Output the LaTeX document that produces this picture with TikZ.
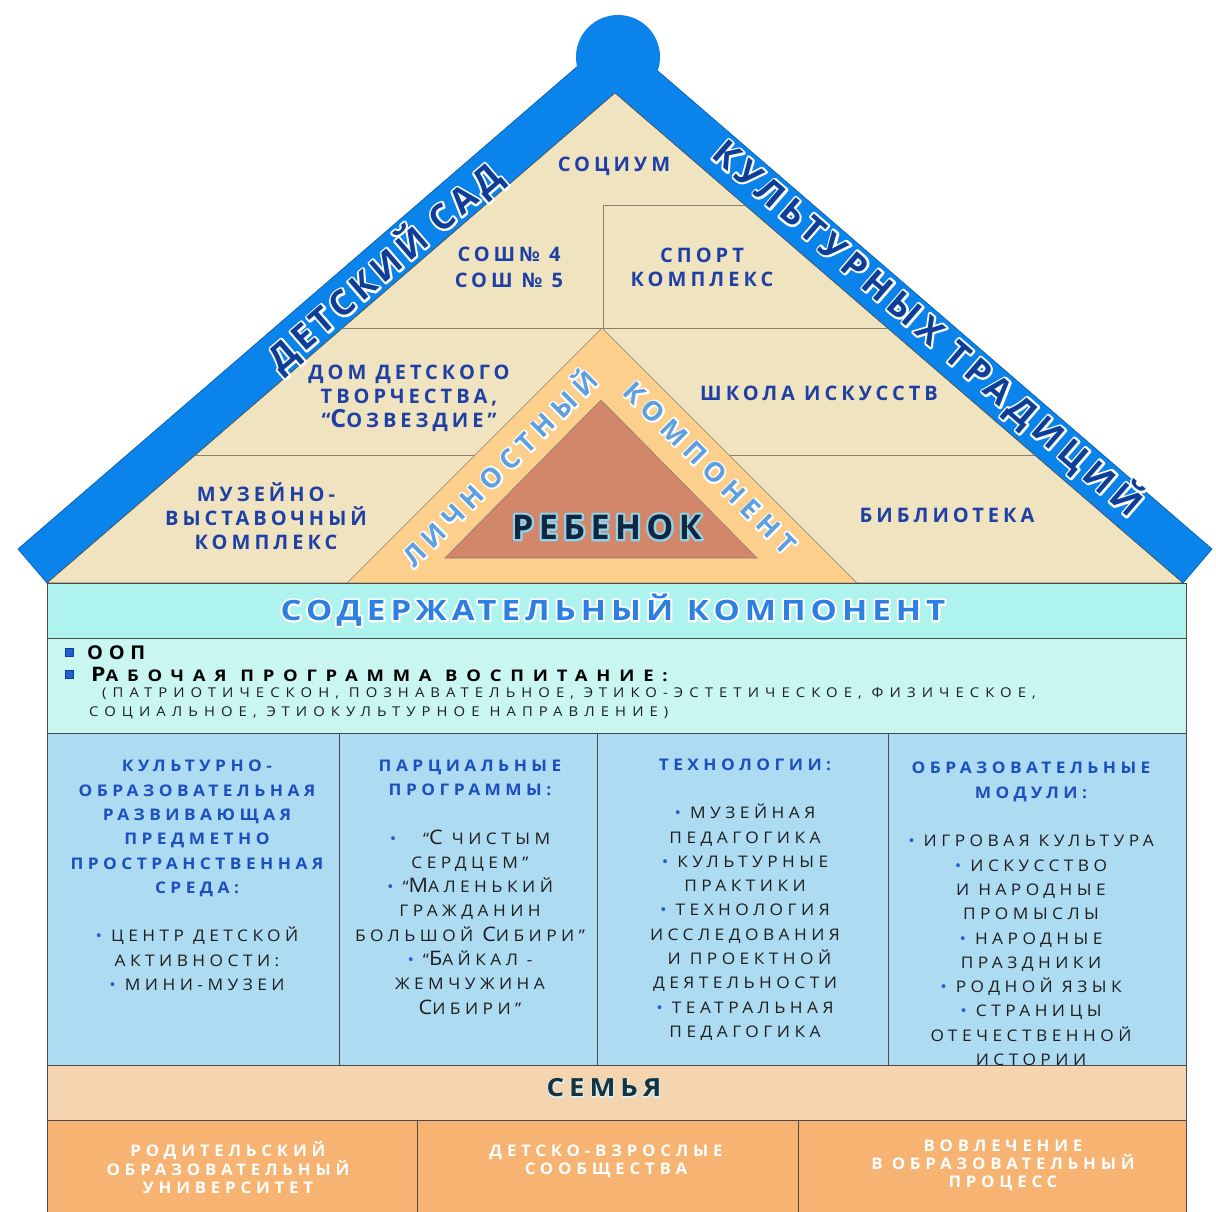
\documentclass[tikz,border=0pt]{standalone}
\usepackage{fontspec}
\usepackage{graphicx}
\setmainfont{Open Sans}
\newfontfamily\lsRoof[LetterSpace=20]{Open Sans}
\newfontfamily\lsCol[LetterSpace=28,FakeStretch=1.08]{Open Sans}
\newfontfamily\lsBand[LetterSpace=14]{Open Sans}
\newfontfamily\lsBandR[LetterSpace=17]{Open Sans}
\newfontfamily\lsTri[LetterSpace=24]{Open Sans}
\newfontfamily\lsReb[LetterSpace=16]{Open Sans}
\newfontfamily\lsSod[LetterSpace=18,FakeStretch=1.18]{Open Sans}
\newfontfamily\lsSem[LetterSpace=20,FakeStretch=1.1]{Open Sans}
\newfontfamily\lsOop[LetterSpace=30,FakeStretch=1.05]{Open Sans}
\newfontfamily\lsRab[LetterSpace=55,FakeStretch=1.15]{Open Sans}
\newfontfamily\lsNap[LetterSpace=45,FakeStretch=1.1]{Open Sans}
\newfontfamily\lsBot[LetterSpace=30,FakeStretch=1.05]{Open Sans}
\newcommand\fs[2]{\fontsize{#1}{#2}\selectfont}
\newcommand\Up[1]{\scalebox{1.25}{#1}}
\definecolor{roofblue}{HTML}{0A84EA}
\definecolor{roofedge}{HTML}{0B5FB5}
\definecolor{beige}{HTML}{F0E4C0}
\definecolor{ltorange}{HTML}{FCD08C}
\definecolor{brownish}{HTML}{D2876A}
\definecolor{cyanband}{HTML}{AEF3EE}
\definecolor{cyanbox}{HTML}{CAF6F2}
\definecolor{colblue}{HTML}{ACDBF2}
\definecolor{peach}{HTML}{F5D4B0}
\definecolor{orangebox}{HTML}{F6B372}
\definecolor{labelblue}{HTML}{1E40A6}
\definecolor{headblue}{HTML}{1D4FBE}
\definecolor{bodyblack}{HTML}{1E1E1E}
\definecolor{bulblue}{HTML}{1F5FD0}
\definecolor{edgegrey}{HTML}{4A4A4A}
\definecolor{linegrey}{HTML}{8A8070}
\definecolor{darkblue}{HTML}{0E3F98}
\definecolor{lightblue}{HTML}{5E9FE0}
\definecolor{sodblue}{HTML}{2D7FE2}
\definecolor{rebdark}{HTML}{13263F}
\definecolor{rebglow}{HTML}{8FD4EA}
\definecolor{semdark}{HTML}{12333F}
\definecolor{semglow}{HTML}{DCEEF2}
\newcommand\hd[1]{{\bfseries\color{headblue}#1}}
\newcommand\bul{{\color{bulblue}•}\ }
% haloed text: #1 halo stroke width, #2 halo colour, #3 text colour, #4 text
\newcommand\halo[4][3]{\leavevmode\rlap{\color{#2}\special{pdf:literal direct #1 w 1 j 2 Tr}#4\special{pdf:literal direct 0 Tr}}{\color{#3}#4}}
\begin{document}
\begin{tikzpicture}[x=1pt,y=-1pt,
  gridline/.style={draw=linegrey, line width=0.6pt},
  boxedge/.style={draw=edgegrey, line width=0.8pt},
  roofl/.style={font=\lsRoof\bfseries\fs{20}{24}, text=labelblue, align=center, inner sep=0pt},
  colt/.style={font=\lsCol\fs{16}{24.3}, text=bodyblack, align=center, inner sep=0pt},
  bott/.style={font=\lsBot\bfseries\fs{16}{18}, text=white, align=center, inner sep=0pt},
  sq/.style={draw=darkblue, fill=bulblue, minimum size=8pt, inner sep=0pt, line width=0.5pt}]
\useasboundingbox (0,0) rectangle (1216,1211);
% roof band
\filldraw[fill=roofblue, draw=roofedge, line width=0.7pt] (47,583) -- (615,93) -- (1183,583) -- (1212,549) -- (615,34) -- (18,549) -- cycle;
\fill[roofblue] (618,57) circle[radius=42pt];
\draw[boxedge, line width=0.6pt, fill=beige] (47,583) -- (615,93) -- (1183,583) -- cycle;
% inner divisions
\draw[gridline] (342.6,328) -- (887.4,328);
\draw[gridline] (603,205) -- (744.8,205);
\draw[gridline] (603,205) -- (603,328);
\draw[gridline] (195.4,455) -- (475,455);
\draw[gridline] (729,455) -- (1034.6,455);
\draw[gridline, fill=ltorange] (347,583) -- (602,328) -- (857,583) -- cycle;
\draw[gridline, fill=brownish] (445,558) -- (601,400) -- (757,558) -- cycle;
% roof labels
\node[roofl] (socium) at (614,166) {СОЦИУМ};
\node[roofl, font=\lsRoof\bfseries\fs{20}{26}] (sosh) at (509,267) {СОШ№ 4\\СОШ № 5};
\node[roofl] (sport) at (702,267) {СПОРТ\\КОМПЛЕКС};
\node[roofl] (ddt) at (409,398) {ДОМ ДЕТСКОГО\\ТВОРЧЕСТВА,\\“\Up{С}ОЗВЕЗДИЕ”};
\node[roofl] (shkola) at (819,393) {ШКОЛА ИСКУССТВ};
\node[roofl] (muzey) at (266,516) {МУЗЕЙНО-\\ВЫСТАВОЧНЫЙ\\КОМПЛЕКС};
\node[roofl] (biblio) at (947,515) {БИБЛИОТЕКА};
% band texts
\node[rotate=40.8, font=\lsBand\bfseries\fs{35}{40}, inner sep=0pt] (dsad) at (384,267) {\halo[4]{white}{darkblue}{ДЕТСКИЙ САД}};
\node[rotate=-40.8, font=\lsBandR\bfseries\fs{35}{40}, inner sep=0pt] (ktrad) at (928,328) {\halo[4]{white}{darkblue}{КУЛЬТУРНЫХ ТРАДИЦИЙ}};
\node[rotate=45, font=\lsTri\bfseries\fs{27}{32}, inner sep=0pt] (lichn) at (498,467) {\halo[3.4]{white}{lightblue}{ЛИЧНОСТНЫЙ}};
\node[rotate=-45, font=\lsTri\bfseries\fs{27}{32}, inner sep=0pt] (komp) at (710,468) {\halo[3.4]{white}{lightblue}{КОМПОНЕНТ}};
\node[font=\lsReb\bfseries\fs{34}{40}, inner sep=0pt] (reb) at (607,527) {\halo[4.5]{rebglow}{rebdark}{РЕБЕНОК}};
% content component
\draw[boxedge, fill=cyanband] (47,583) rectangle (1186,638);
\node[font=\lsSod\bfseries\fs{28}{32}, inner sep=0pt] (sod) at (613,610) {\halo[4]{white}{sodblue}{СОДЕРЖАТЕЛЬНЫЙ КОМПОНЕНТ}};
\draw[boxedge, fill=cyanbox] (47,638) rectangle (1186,733);
\node[sq] (b1) at (69,652) {};
\node[sq] (b2) at (69,674) {};
\node[anchor=west, font=\lsOop\bfseries\fs{19}{22}, text=black, inner sep=0pt] (oop) at (87,653) {ООП};
\node[anchor=west, font=\lsRab\bfseries\fs{16}{20}, text=black, inner sep=0pt] (rab) at (91,674) {\Up{Р}АБОЧАЯ ПРОГРАММА ВОСПИТАНИЕ:};
\node[anchor=west, font=\lsNap\fs{13.5}{19}, text=bodyblack, align=left, inner sep=0pt] (napr) at (89,703.5) {\hspace*{13pt}(ПАТРИОТИЧЕСКОН, ПОЗНАВАТЕЛЬНОЕ, ЭТИКО-ЭСТЕТИЧЕСКОЕ, ФИЗИЧЕСКОЕ,\\СОЦИАЛЬНОЕ, ЭТИОКУЛЬТУРНОЕ НАПРАВЛЕНИЕ)};
% columns
\draw[boxedge, fill=colblue] (47,733) rectangle (339,1065);
\draw[boxedge, fill=colblue] (339,733) rectangle (597,1065);
\draw[boxedge, fill=colblue] (597,733) rectangle (888,1065);
\draw[boxedge, fill=colblue] (888,733) rectangle (1186,1065);
\node[colt] (col1) at (197,875.5) {\hd{КУЛЬТУРНО-}\\\hd{ОБРАЗОВАТЕЛЬНАЯ}\\\hd{РАЗВИВАЮЩАЯ}\\\hd{ПРЕДМЕТНО}\\\hd{ПРОСТРАНСТВЕННАЯ}\\\hd{СРЕДА:}\\[24.3pt]\bul ЦЕНТР ДЕТСКОЙ\\АКТИВНОСТИ:\\\bul МИНИ-МУЗЕИ};
\node[colt] (col2) at (470,887) {\hd{ПАРЦИАЛЬНЫЕ}\\\hd{ПРОГРАММЫ:}\\[24.3pt]\bul\ \ “\Up{С} ЧИСТЫМ\\СЕРДЦЕМ”\\\bul “\Up{М}АЛЕНЬКИЙ\\ГРАЖДАНИН\\БОЛЬШОЙ \Up{С}ИБИРИ”\\\bul “\Up{Б}АЙКАЛ -\\ЖЕМЧУЖИНА\\\Up{С}ИБИРИ”};
\node[colt] (col3) at (745,899.5) {\hd{ТЕХНОЛОГИИ:}\\[24.3pt]\bul МУЗЕЙНАЯ\\ПЕДАГОГИКА\\\bul КУЛЬТУРНЫЕ\\ПРАКТИКИ\\\bul ТЕХНОЛОГИЯ\\ИССЛЕДОВАНИЯ\\\ И ПРОЕКТНОЙ\\ДЕЯТЕЛЬНОСТИ\\\bul ТЕАТРАЛЬНАЯ\\ПЕДАГОГИКА};
\node[colt] (col4) at (1031,914) {\hd{ОБРАЗОВАТЕЛЬНЫЕ}\\\hd{МОДУЛИ:}\\[24.3pt]\bul ИГРОВАЯ КУЛЬТУРА\\\bul ИСКУССТВО\\И НАРОДНЫЕ\\ПРОМЫСЛЫ\\\bul НАРОДНЫЕ\\ПРАЗДНИКИ\\\bul РОДНОЙ ЯЗЫК\\\bul СТРАНИЦЫ\\ОТЕЧЕСТВЕННОЙ\\ИСТОРИИ};
% family
\draw[boxedge, fill=peach] (47,1065) rectangle (1186,1120);
\node[font=\lsSem\bfseries\fs{25}{30}, inner sep=0pt] (semya) at (604,1088) {\halo[2]{semglow}{semdark}{СЕМЬЯ}};
\draw[boxedge, fill=orangebox] (47,1120) rectangle (417,1216);
\draw[boxedge, fill=orangebox] (417,1120) rectangle (798,1216);
\draw[boxedge, fill=orangebox] (798,1120) rectangle (1186,1216);
\node[bott] (rod) at (228,1167.5) {РОДИТЕЛЬСКИЙ\\ОБРАЗОВАТЕЛЬНЫЙ\\УНИВЕРСИТЕТ};
\node[bott] (dvs) at (606,1161.5) {ДЕТСКО-ВЗРОСЛЫЕ\\СООБЩЕСТВА};
\node[bott] (vovl) at (1003,1165) {ВОВЛЕЧЕНИЕ\\В ОБРАЗОВАТЕЛЬНЫЙ\\ПРОЦЕСС};
\end{tikzpicture}
\end{document}
